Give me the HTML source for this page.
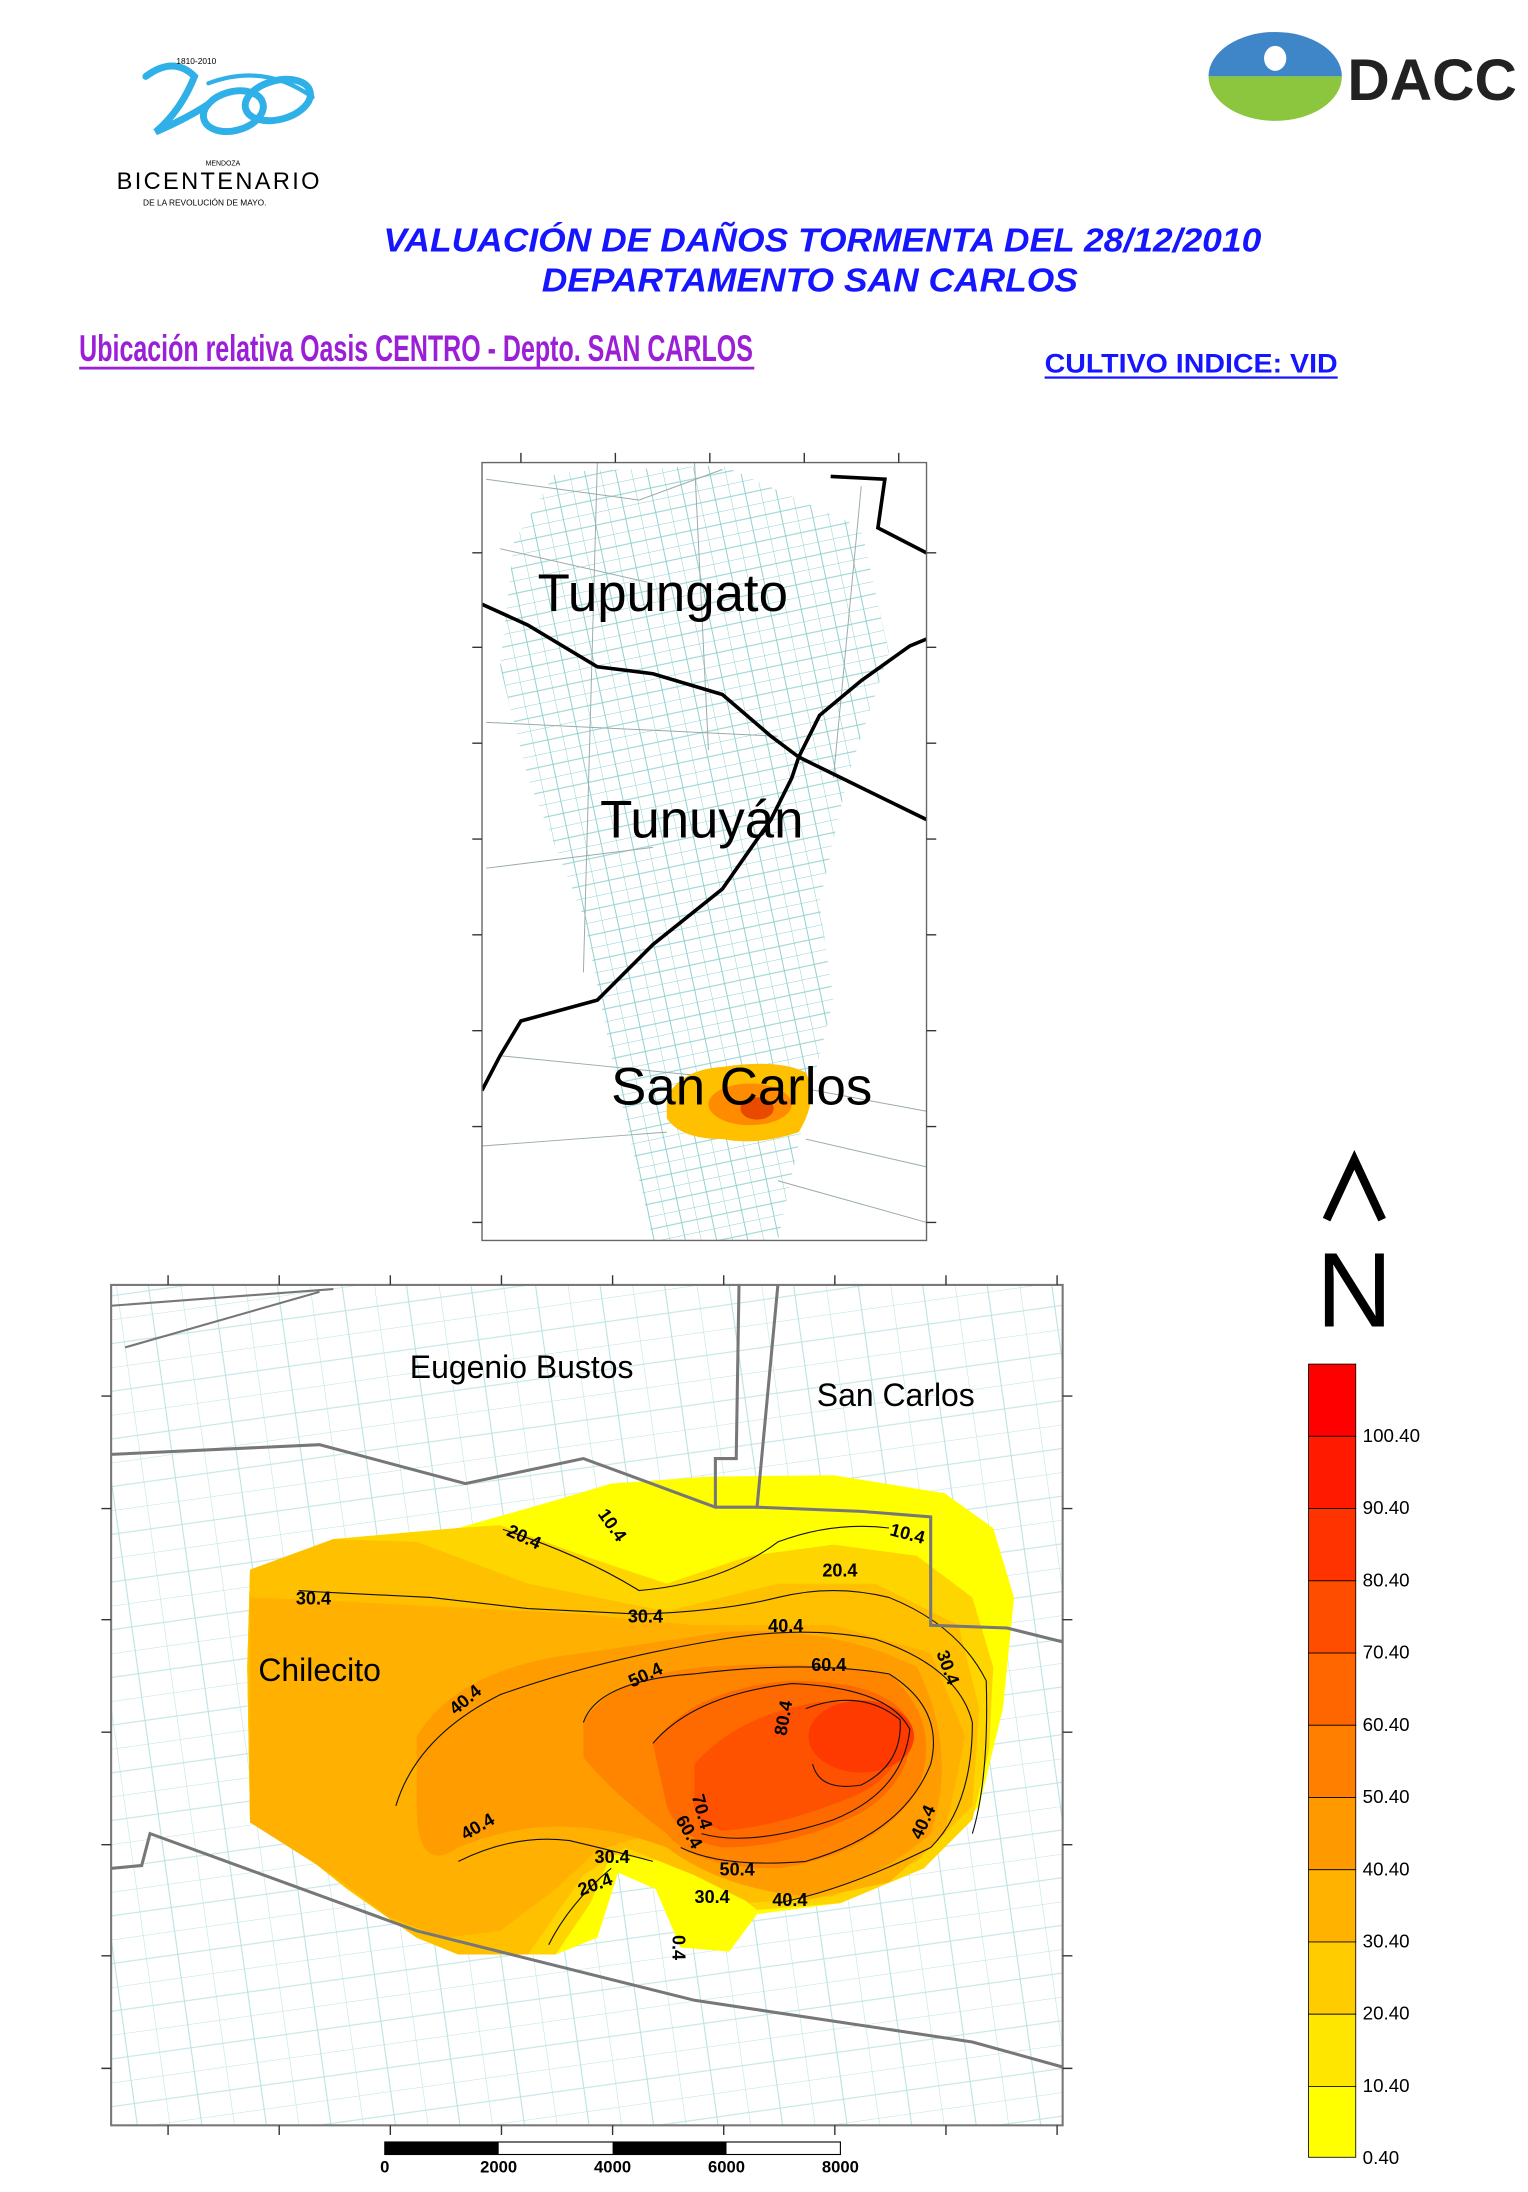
<!DOCTYPE html>
<html><head><meta charset="utf-8"><style>
html,body{margin:0;padding:0;background:#fff;}
svg{display:block;}
text{font-family:"Liberation Sans",sans-serif;}
</style></head><body>
<svg width="1528" height="2192" viewBox="0 0 1100 1578" preserveAspectRatio="none" xmlns="http://www.w3.org/2000/svg">
<defs>
<pattern id="roads" width="22" height="18" patternUnits="userSpaceOnUse" patternTransform="rotate(-12)">
<path d="M0 0H22M0 9H22M0 0V18M11 0V18" stroke="#8fd0d0" stroke-width="0.7" fill="none"/>
</pattern>
<pattern id="roads2" width="46" height="34" patternUnits="userSpaceOnUse" patternTransform="rotate(-8)">
<path d="M0 0H46M0 17H46M0 0V34M23 0V34" stroke="#9fd6d6" stroke-width="0.8" fill="none"/>
</pattern>
<clipPath id="c1"><rect x="347" y="333" width="320" height="560"/></clipPath>
<clipPath id="c2"><rect x="80" y="925" width="685" height="605"/></clipPath>
</defs>

<!-- Bicentenario logo -->
<g fill="none" stroke="#2fb0e8" stroke-width="5" stroke-linecap="round">
<path d="M105 55 Q125 40 140 55 Q130 80 112 95 Q135 85 150 75"/>
<ellipse cx="168" cy="80" rx="22" ry="14" transform="rotate(-15 168 80)"/>
<ellipse cx="200" cy="72" rx="24" ry="14" transform="rotate(-15 200 72)"/>
<path d="M150 60 Q190 45 225 70" stroke-width="3"/>
</g>
<text x="127" y="46" font-size="6" font-family="Liberation Serif">1810-2010</text>
<text x="148" y="119" font-size="5" font-family="Liberation Serif">MENDOZA</text>
<text x="84" y="136" font-size="17" font-family="Liberation Serif" textLength="146">BICENTENARIO</text>
<text x="103" y="148" font-size="6" font-family="Liberation Serif">DE LA REVOLUCIÓN DE MAYO.</text>

<!-- DACC logo -->
<path d="M870 55 A48 32 0 0 1 966 55 Z" fill="#3f86c8"/>
<path d="M870 55 A48 32 0 0 0 966 55 Z" fill="#8cc63f"/>
<ellipse cx="918" cy="42" rx="8" ry="9" fill="#fff"/>
<text x="970" y="72" font-size="42" font-weight="bold" fill="#222" textLength="122" lengthAdjust="spacingAndGlyphs">DACC</text>

<!-- Titles -->
<text x="592" y="181" font-size="24" font-weight="bold" font-style="italic" fill="#1515ff" text-anchor="middle" textLength="632" lengthAdjust="spacingAndGlyphs">VALUACIÓN DE DAÑOS TORMENTA DEL 28/12/2010</text>
<text x="583" y="210" font-size="24" font-weight="bold" font-style="italic" fill="#1515ff" text-anchor="middle" textLength="386" lengthAdjust="spacingAndGlyphs">DEPARTAMENTO SAN CARLOS</text>
<text x="57" y="260" font-size="27" font-weight="bold" fill="#9b1fd6" textLength="485" lengthAdjust="spacingAndGlyphs">Ubicación relativa Oasis CENTRO - Depto. SAN CARLOS</text>
<rect x="57" y="264" width="486" height="2" fill="#9b1fd6"/>
<text x="752" y="268" font-size="19" font-weight="bold" fill="#1515ff" textLength="211" lengthAdjust="spacingAndGlyphs">CULTIVO INDICE: VID</text>
<rect x="752" y="271" width="211" height="1.6" fill="#1515ff"/>

<!-- Top map -->
<g clip-path="url(#c1)">
<path d="M400 340 L520 335 L620 380 L640 470 L610 560 L590 650 L600 720 L580 800 L560 893 L470 893 L440 760 L420 660 L380 560 L360 480 L370 390 Z" fill="url(#roads)"/>
<path d="M350 345 L460 360 L520 338 M360 395 L470 420 M350 520 L560 530 M350 625 L470 610 M360 760 L560 780 L667 800 M347 825 L480 815 M580 820 L667 840 M620 350 L600 560 M560 850 L667 880 M500 333 L510 540 M430 333 L420 700" stroke="#9aa" stroke-width="0.7" fill="none"/>
<path d="M347 435 L380 450 L430 480 L470 485 L520 500 L555 530 L575 545 L590 515 L620 490 L655 465 L667 460" stroke="#000" stroke-width="2.6" fill="none"/>
<path d="M575 545 L667 590" stroke="#000" stroke-width="2.6" fill="none"/>
<path d="M347 785 L360 760 L375 735 L430 720 L470 680 L520 640 L555 590 L570 560 L575 545" stroke="#000" stroke-width="2.6" fill="none"/>
<path d="M598 343 L637 345 L632 380 L667 398" stroke="#000" stroke-width="2.6" fill="none"/>
<path d="M480 790 Q490 770 520 768 Q560 762 580 772 Q590 790 575 815 Q545 825 520 820 Q490 820 480 805 Z" fill="#ffc000"/>
<ellipse cx="540" cy="795" rx="30" ry="15" fill="#ff8c00"/>
<ellipse cx="545" cy="798" rx="12" ry="8" fill="#e84a00"/>
</g>
<rect x="347" y="333" width="320" height="560" fill="none" stroke="#666" stroke-width="1"/>
<g stroke="#333" stroke-width="1">
<path d="M375 326V333M443 326V333M511 326V333M579 326V333M647 326V333"/>
<path d="M340 398H347M340 466H347M340 535H347M340 604H347M340 673H347M340 742H347M340 811H347M340 880H347"/>
<path d="M667 398H674M667 466H674M667 535H674M667 604H674M667 673H674M667 742H674M667 811H674M667 880H674"/>
</g>
<text x="387" y="440" font-size="38">Tupungato</text>
<text x="432" y="603" font-size="38">Tunuyán</text>
<text x="440" y="795" font-size="38">San Carlos</text>

<!-- Bottom map -->
<g clip-path="url(#c2)">
<rect x="80" y="925" width="685" height="605" fill="url(#roads2)" opacity="0.7"/>
<path d="M180 1130 L240 1108 L330 1100 L400 1080 L440 1068 L510 1063 L600 1062 L680 1075 L715 1100 L730 1150 L722 1230 L705 1300 L665 1345 L605 1370 L545 1378 L525 1405 L490 1402 L472 1360 L445 1348 L430 1395 L400 1407 L330 1407 L300 1395 L250 1360 L200 1320 L180 1312 L178 1200 Z" fill="#ffff00"/>
<path d="M180 1130 L240 1108 L330 1100 L360 1098 L420 1120 L480 1140 L540 1120 L600 1112 L660 1120 L700 1150 L715 1200 L712 1260 L700 1310 L665 1345 L605 1370 L545 1375 L520 1355 L480 1340 L440 1335 L425 1370 L400 1407 L330 1407 L300 1395 L250 1360 L200 1320 L180 1312 L178 1200 Z" fill="#ffd500"/>
<path d="M180 1130 L240 1108 L300 1110 L380 1140 L480 1160 L560 1140 L630 1140 L690 1170 L705 1230 L700 1300 L660 1340 L600 1365 L540 1370 L500 1350 L450 1330 L420 1350 L380 1407 L330 1407 L300 1395 L250 1360 L200 1320 L180 1312 L178 1200 Z" fill="#ffc000"/>
<path d="M180 1150 L230 1152 L420 1162 L500 1170 L600 1170 L670 1190 L695 1250 L680 1320 L640 1355 L580 1368 L530 1355 L470 1320 L430 1332 L400 1360 L360 1390 L320 1395 L280 1380 L240 1350 L180 1312 Z" fill="#ffb000"/>
<path d="M300 1250 Q330 1200 420 1190 L520 1175 Q600 1170 660 1200 Q690 1260 670 1320 Q630 1355 580 1365 Q520 1360 480 1330 Q400 1300 330 1330 Q300 1350 300 1300 Z" fill="#ff9d00"/>
<path d="M420 1240 Q440 1205 510 1200 Q580 1195 640 1205 Q680 1240 660 1290 Q630 1335 560 1345 Q500 1345 480 1320 Q440 1290 420 1265 Z" fill="#ff8400"/>
<path d="M470 1255 Q500 1215 570 1210 Q640 1210 655 1240 Q660 1280 620 1305 Q570 1330 520 1330 Q490 1325 480 1300 Z" fill="#ff6a00"/>
<path d="M500 1270 Q530 1235 590 1225 Q640 1225 650 1245 Q650 1280 610 1295 Q560 1315 520 1318 Q495 1310 500 1290 Z" fill="#ff5200"/>
<ellipse cx="620" cy="1250" rx="38" ry="26" fill="#ff3a00"/>
<g stroke="#111" stroke-width="0.8" fill="none">
<path d="M362 1101 Q420 1120 460 1145 Q520 1140 560 1110 Q600 1095 640 1100"/>
<path d="M215 1145 L230 1146 L310 1150 L380 1158 L460 1162 Q520 1160 560 1150 Q600 1140 640 1150 Q690 1170 710 1210 Q712 1280 700 1320"/>
<path d="M285 1300 Q300 1250 360 1220 Q430 1195 520 1180 Q580 1170 630 1180 Q690 1200 700 1240 Q700 1300 670 1330 Q610 1360 560 1370"/>
<path d="M420 1240 Q430 1210 500 1205 Q580 1195 640 1205 Q680 1230 670 1270 Q650 1320 580 1340 Q520 1345 490 1330"/>
<path d="M470 1255 Q500 1220 570 1212 Q640 1215 655 1245 Q650 1290 600 1310 Q540 1330 505 1320"/>
<path d="M580 1230 Q620 1215 648 1238 Q650 1270 620 1285 Q590 1290 585 1270"/>
<path d="M330 1340 Q370 1320 410 1325 Q440 1332 470 1340"/>
<path d="M395 1400 Q410 1370 440 1345"/>
</g>
<g font-size="13" font-weight="bold" fill="#000">
<text x="213" y="1155">30.4</text>
<text x="452" y="1168">30.4</text>
<text x="364" y="1105" transform="rotate(25 364 1105)">20.4</text>
<text x="430" y="1090" transform="rotate(55 430 1090)">10.4</text>
<text x="640" y="1105" transform="rotate(15 640 1105)">10.4</text>
<text x="592" y="1135">20.4</text>
<text x="553" y="1175">40.4</text>
<text x="584" y="1203" >60.4</text>
<text x="455" y="1215" transform="rotate(-25 455 1215)">50.4</text>
<text x="328" y="1235" transform="rotate(-40 328 1235)">40.4</text>
<text x="674" y="1190" transform="rotate(70 674 1190)">30.4</text>
<text x="566" y="1250" transform="rotate(-80 566 1250)">80.4</text>
<text x="663" y="1325" transform="rotate(-65 663 1325)">40.4</text>
<text x="335" y="1325" transform="rotate(-30 335 1325)">40.4</text>
<text x="428" y="1341">30.4</text>
<text x="418" y="1365" transform="rotate(-20 418 1365)">20.4</text>
<text x="518" y="1350">50.4</text>
<text x="556" y="1372">40.4</text>
<text x="498" y="1293" transform="rotate(75 498 1293)">70.4</text>
<text x="486" y="1310" transform="rotate(60 486 1310)">60.4</text>
<text x="500" y="1370">30.4</text>
<text x="484" y="1393" transform="rotate(90 484 1393)">0.4</text>
</g>
<path d="M80 1047 L230 1040 L335 1068 L420 1050 L515 1085 L545 1085 L620 1088 L670 1092 L670 1170 L725 1172 L765 1182" stroke="#777" stroke-width="2.2" fill="none"/>
<path d="M515 1085 L515 1050 L530 1050 L532 925 M545 1085 L560 925" stroke="#777" stroke-width="2.2" fill="none"/>
<path d="M80 1345 L102 1343 L108 1320 L300 1390 L500 1440 L700 1470 L765 1488" stroke="#777" stroke-width="2.2" fill="none"/>
<path d="M80 940 L240 928 M90 970 L230 930" stroke="#777" stroke-width="1.5" fill="none"/>
</g>
<rect x="80" y="925" width="685" height="605" fill="none" stroke="#777" stroke-width="1.5"/>
<g stroke="#333" stroke-width="1">
<path d="M121 918V925M201 918V925M281 918V925M361 918V925M441 918V925M521 918V925M601 918V925M681 918V925M761 918V925"/>
<path d="M121 1530V1537M201 1530V1537M281 1530V1537M361 1530V1537M441 1530V1537M521 1530V1537M601 1530V1537M681 1530V1537M761 1530V1537"/>
<path d="M73 1005H80M73 1086H80M73 1166H80M73 1247H80M73 1328H80M73 1408H80M73 1489H80"/>
<path d="M765 1005H772M765 1086H772M765 1166H772M765 1247H772M765 1328H772M765 1408H772M765 1489H772"/>
</g>
<text x="295" y="992" font-size="23">Eugenio Bustos</text>
<text x="588" y="1012" font-size="23">San Carlos</text>
<text x="186" y="1210" font-size="23">Chilecito</text>

<!-- Scale bar -->
<rect x="277" y="1542" width="328" height="9" fill="#fff" stroke="#000" stroke-width="0.8"/>
<rect x="277" y="1542" width="82" height="9" fill="#000"/>
<rect x="441" y="1542" width="82" height="9" fill="#000"/>
<g font-size="12" font-weight="bold" text-anchor="middle">
<text x="277" y="1564">0</text><text x="359" y="1564">2000</text><text x="441" y="1564">4000</text><text x="523" y="1564">6000</text><text x="605" y="1564">8000</text>
</g>

<!-- North arrow -->
<path d="M955 878 L975 835 L995 878" stroke="#000" stroke-width="6" fill="none"/>
<text x="975" y="955" font-size="76" text-anchor="middle">N</text>

<!-- Color bar -->
<g stroke="#000" stroke-width="0.6">
<rect x="942" y="982" width="34" height="52" fill="#ff0000"/>
<rect x="942" y="1034" width="34" height="52" fill="#ff1a00"/>
<rect x="942" y="1086" width="34" height="52" fill="#ff3300"/>
<rect x="942" y="1138" width="34" height="52" fill="#ff4d00"/>
<rect x="942" y="1190" width="34" height="52" fill="#ff6600"/>
<rect x="942" y="1242" width="34" height="52" fill="#ff8000"/>
<rect x="942" y="1294" width="34" height="52" fill="#ff9900"/>
<rect x="942" y="1346" width="34" height="52" fill="#ffb300"/>
<rect x="942" y="1398" width="34" height="52" fill="#ffcc00"/>
<rect x="942" y="1450" width="34" height="52" fill="#ffe600"/>
<rect x="942" y="1502" width="34" height="51" fill="#ffff00"/>
</g>
<g font-size="13.5">
<text x="981" y="1038">100.40</text><text x="981" y="1090">90.40</text><text x="981" y="1142">80.40</text><text x="981" y="1194">70.40</text><text x="981" y="1246">60.40</text><text x="981" y="1298">50.40</text><text x="981" y="1350">40.40</text><text x="981" y="1402">30.40</text><text x="981" y="1454">20.40</text><text x="981" y="1506">10.40</text><text x="981" y="1558">0.40</text>
</g>
</svg>
</body></html>
